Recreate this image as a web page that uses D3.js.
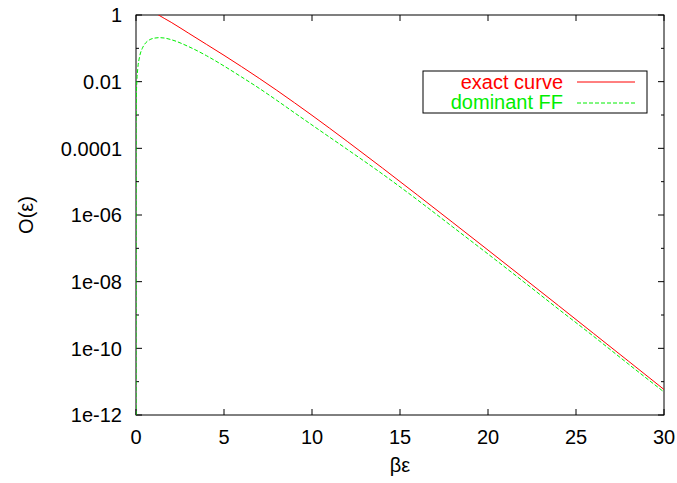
<!DOCTYPE html>
<meta charset="utf-8">
<script src="https://cdn.jsdelivr.net/npm/d3@7"></script>
<head>
  <title>O(epsilon) vs beta epsilon</title>
  <style>
    body { margin: 0; background: #fff; }
    text { font-family: "Liberation Sans", Arial, Helvetica, sans-serif; }
  </style>
</head>
<body>
<div id="chart"></div>
<script>
  // exact curve (goes off the top left of 1.28)
  var exactX = [0.9, 1.28, 2, 3, 4, 5, 6, 7, 8, 9, 10, 12, 14, 16, 18, 20, 22, 24, 26, 28, 30];
  var exactY = [1.35, 1.0, 0.603, 0.282, 0.132, 0.0617, 0.0282, 0.0126, 5.50e-3, 2.34e-3, 9.77e-4,
                1.62e-4, 2.57e-5, 3.94e-6, 5.94e-7, 8.87e-8, 1.31e-8, 1.92e-9, 2.79e-10, 4.05e-11, 5.83e-12];

  // dominant FF
  var domX = [0, 0.005, 0.02, 0.05, 0.1, 0.2, 0.35, 0.5, 0.75, 1.0, 1.3, 1.6, 2, 3, 4, 5, 6, 7, 8, 9, 10,
              12, 14, 16, 18, 20, 22, 24, 26, 28, 30];
  var domY = [1e-12, 5.5e-4, 3.31e-3, 0.0105, 0.0245, 0.055, 0.0977, 0.135, 0.178, 0.200, 0.209, 0.204, 0.182,
              0.112, 0.0603, 0.0295, 0.0138, 6.31e-3, 2.75e-3, 1.17e-3, 5.01e-4,
              9.33e-5, 1.70e-5, 2.82e-6, 4.37e-7, 6.76e-8, 1.02e-8, 1.51e-9, 2.29e-10, 3.31e-11, 4.90e-12];

  // ticks
  var xTicks = [0, 5, 10, 15, 20, 25, 30];
  var yTicks = [1, 1e-2, 1e-4, 1e-6, 1e-8, 1e-10, 1e-12];
  var yTickLabels = ["1", "0.01", "0.0001", "1e-06", "1e-08", "1e-10", "1e-12"];
  var yMinor = [1e-1, 1e-3, 1e-5, 1e-7, 1e-9, 1e-11];

  var W = 677, H = 483;
  var margin = {top: 15, right: 13, bottom: 68, left: 136};
  var width = W - margin.left - margin.right,
      height = H - margin.top - margin.bottom;

  var svg = d3.select("#chart").append("svg")
      .attr("width", W).attr("height", H);

  var g = svg.append("g")
      .attr("transform", "translate(" + margin.left + "," + margin.top + ")");

  var x = d3.scaleLinear().domain([0, 30]).range([0, width]);
  var y = d3.scaleLog().domain([1e-12, 1]).range([height, 0]);

  g.append("clipPath").attr("id", "clip")
    .append("rect").attr("width", width).attr("height", height);

  // ticks (inward, mirrored)
  var major = 6, minor = 3;
  xTicks.forEach(function(t) {
    g.append("line").attr("x1", x(t)).attr("x2", x(t)).attr("y1", height).attr("y2", height - major)
      .attr("stroke", "#000");
    g.append("line").attr("x1", x(t)).attr("x2", x(t)).attr("y1", 0).attr("y2", major)
      .attr("stroke", "#000");
    g.append("text").attr("x", x(t)).attr("y", height + 29)
      .attr("text-anchor", "middle").attr("font-size", 20).text(t);
  });
  yTicks.forEach(function(t, i) {
    g.append("line").attr("x1", 0).attr("x2", major).attr("y1", y(t)).attr("y2", y(t))
      .attr("stroke", "#000");
    g.append("line").attr("x1", width).attr("x2", width - major).attr("y1", y(t)).attr("y2", y(t))
      .attr("stroke", "#000");
    g.append("text").attr("x", -14).attr("y", y(t)).attr("dy", "0.36em")
      .attr("text-anchor", "end").attr("font-size", 20).text(yTickLabels[i]);
  });
  yMinor.forEach(function(t) {
    g.append("line").attr("x1", 0).attr("x2", minor).attr("y1", y(t)).attr("y2", y(t))
      .attr("stroke", "#000");
    g.append("line").attr("x1", width).attr("x2", width - minor).attr("y1", y(t)).attr("y2", y(t))
      .attr("stroke", "#000");
  });

  // frame
  g.append("rect").attr("width", width).attr("height", height)
    .attr("fill", "none").attr("stroke", "#000").attr("stroke-width", 1);

  var line = d3.line()
      .x(function(d) { return x(d[0]); })
      .y(function(d) { return y(d[1]); })
      .curve(d3.curveMonotoneX);

  var curves = g.append("g").attr("clip-path", "url(#clip)");
  curves.append("path")
    .datum(d3.zip(exactX, exactY))
    .attr("d", line)
    .attr("fill", "none").attr("stroke", "#ff0000").attr("stroke-width", 1);
  curves.append("path")
    .datum(d3.zip(domX, domY))
    .attr("d", line)
    .attr("fill", "none").attr("stroke", "#00ee00").attr("stroke-width", 1)
    .attr("stroke-dasharray", "4,2");

  // legend
  var leg = svg.append("g");
  leg.append("rect").attr("x", 423).attr("y", 71).attr("width", 224).attr("height", 42)
    .attr("fill", "#fff").attr("stroke", "#000");
  leg.append("text").attr("x", 563).attr("y", 89).attr("text-anchor", "end")
    .attr("font-size", 20).attr("fill", "#ff0000").text("exact curve");
  leg.append("line").attr("x1", 577).attr("x2", 635).attr("y1", 82).attr("y2", 82)
    .attr("stroke", "#ff0000");
  leg.append("text").attr("x", 563).attr("y", 109).attr("text-anchor", "end")
    .attr("font-size", 20).attr("fill", "#00ee00").text("dominant FF");
  leg.append("line").attr("x1", 577).attr("x2", 635).attr("y1", 103).attr("y2", 103)
    .attr("stroke", "#00ee00").attr("stroke-dasharray", "4,2");

  // axis titles
  svg.append("text").attr("x", margin.left + width / 2).attr("y", 472)
    .attr("text-anchor", "middle").attr("font-size", 20).text("βε");
  svg.append("text").attr("transform", "translate(33," + (margin.top + height / 2) + ") rotate(-90)")
    .attr("text-anchor", "middle").attr("font-size", 20).text("O(ε)");
</script>
</body>
